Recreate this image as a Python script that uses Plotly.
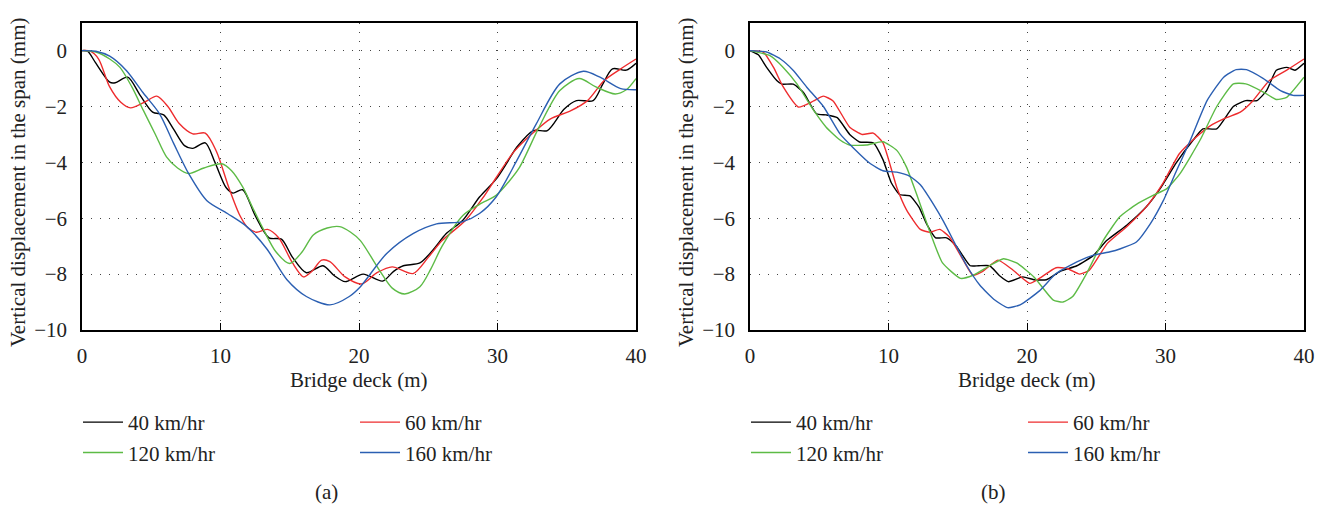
import plotly.graph_objects as go

# ---------------- data: panel (a) ----------------
a40_x = [0, 0.4, 1.0, 2.0, 2.4, 3.3, 4.2, 5.1, 5.9, 6.6, 7.4, 8.0, 8.9, 9.6, 10.4, 10.9, 11.6, 12.5, 13.5, 14.4, 15.2, 16.2, 17.4, 18.2, 19.0, 20.3, 21.7, 22.5, 23.2, 24.4, 25.4, 26.3, 27.5, 28.7, 29.9, 30.7, 31.4, 32.6, 33.6, 34.8, 35.7, 36.9, 37.6, 38.3, 39.3, 40]
a40_y = [0, -0.02, -0.45, -1.13, -1.15, -0.95, -1.6, -2.2, -2.3, -2.8, -3.4, -3.5, -3.3, -4.0, -4.9, -5.1, -4.98, -5.9, -6.7, -6.75, -7.4, -7.95, -7.7, -8.05, -8.27, -8.0, -8.25, -7.9, -7.7, -7.6, -7.1, -6.55, -6.07, -5.24, -4.6, -4.0, -3.45, -2.86, -2.86, -2.1, -1.79, -1.79, -1.2, -0.65, -0.7, -0.45]

a60_x = [0, 0.6, 1.2, 2.0, 2.8, 3.5, 4.5, 5.4, 6.2, 7.0, 8.0, 8.9, 9.7, 10.6, 11.4, 12.0, 12.6, 13.4, 14.2, 15.2, 16.0, 16.6, 17.3, 17.9, 19.0, 20.2, 21.3, 22.4, 23.9, 25.0, 26.0, 27.7, 28.9, 29.9, 31.1, 32.0, 32.6, 33.8, 35.3, 36.5, 37.7, 38.9, 40]
a60_y = [0, -0.02, -0.3, -1.3, -1.85, -2.05, -1.85, -1.63, -2.0, -2.6, -2.98, -2.95, -3.6, -4.9, -5.9, -6.35, -6.5, -6.4, -6.7, -7.6, -8.1, -7.9, -7.5, -7.55, -8.1, -8.35, -7.95, -7.74, -7.98, -7.4, -6.8, -6.07, -5.3, -4.55, -3.67, -3.2, -2.93, -2.45, -2.15, -1.79, -1.07, -0.65, -0.3]

a120_x = [0, 1.0, 2.0, 2.74, 3.6, 4.43, 5.3, 6.1, 6.9, 7.7, 8.8, 10.1, 10.8, 11.6, 12.3, 13.1, 14.0, 15.0, 15.9, 16.7, 17.7, 18.6, 19.4, 20.1, 21.5, 22.4, 23.3, 24.4, 25.2, 26.0, 27.5, 28.7, 29.9, 30.8, 31.6, 33.0, 34.5, 35.9, 37.1, 38.5, 39.3, 40]
a120_y = [0, -0.05, -0.3, -0.6, -1.3, -2.14, -3.0, -3.8, -4.2, -4.4, -4.2, -4.05, -4.3, -4.88, -5.6, -6.4, -7.2, -7.62, -7.2, -6.6, -6.35, -6.3, -6.5, -6.8, -7.88, -8.5, -8.71, -8.45, -7.8, -7.0, -5.9, -5.5, -5.18, -4.7, -4.17, -2.74, -1.43, -1.0, -1.3, -1.55, -1.4, -1.0]

a160_x = [0, 1.0, 2.0, 3.2, 4.4, 5.6, 6.6, 7.7, 9.0, 10.5, 11.9, 13.35, 14.8, 16.2, 17.9, 19.3, 20.1, 22.0, 23.9, 25.6, 27.5, 28.7, 29.9, 31.4, 32.8, 34.5, 36.2, 37.4, 38.9, 40]
a160_y = [0, -0.02, -0.2, -0.71, -1.5, -2.26, -3.3, -4.4, -5.36, -5.83, -6.3, -7.1, -8.2, -8.8, -9.1, -8.8, -8.45, -7.26, -6.55, -6.2, -6.12, -5.83, -5.24, -3.93, -2.62, -1.19, -0.74, -0.95, -1.36, -1.4]

# ---------------- data: panel (b) ----------------
b40_x = [0, 0.6, 1.2, 1.93, 2.3, 3.13, 3.86, 4.8, 5.5, 6.3, 7.2, 7.9, 8.9, 9.6, 10.2, 10.8, 11.55, 12.2, 12.75, 13.4, 14.2, 14.9, 15.9, 16.5, 17.3, 18.0, 18.65, 19.7, 20.5, 21.4, 22.4, 23.6, 24.8, 25.75, 27.2, 28.6, 29.6, 30.8, 32.0, 32.7, 33.7, 34.9, 35.8, 36.6, 37.3, 38.0, 38.75, 39.35, 40]
b40_y = [0, -0.15, -0.6, -1.07, -1.2, -1.2, -1.5, -2.26, -2.3, -2.4, -3.0, -3.27, -3.3, -3.9, -4.73, -5.15, -5.2, -5.6, -6.2, -6.7, -6.7, -7.0, -7.7, -7.7, -7.7, -8.05, -8.27, -8.1, -8.2, -8.2, -7.9, -7.7, -7.33, -6.8, -6.25, -5.6, -4.95, -4.0, -3.2, -2.8, -2.8, -2.0, -1.79, -1.79, -1.43, -0.7, -0.6, -0.7, -0.45]

b60_x = [0, 0.96, 1.7, 2.4, 3.5, 4.6, 5.3, 6.0, 7.2, 8.1, 8.9, 9.6, 10.6, 11.3, 12.3, 13.0, 13.7, 14.4, 15.4, 16.1, 16.8, 17.9, 19.0, 20.2, 20.9, 22.1, 22.9, 23.8, 24.5, 25.8, 27.2, 28.6, 29.8, 31.0, 32.2, 33.2, 34.4, 35.4, 36.3, 37.5, 38.75, 40]
b60_y = [0, -0.05, -0.6, -1.3, -2.02, -1.8, -1.63, -1.8, -2.74, -3.0, -2.95, -3.3, -4.9, -5.7, -6.4, -6.5, -6.4, -6.67, -7.5, -8.04, -7.9, -7.5, -7.86, -8.33, -8.15, -7.77, -7.8, -8.0, -7.86, -6.9, -6.3, -5.6, -4.76, -3.69, -3.1, -2.7, -2.4, -2.2, -1.8, -1.07, -0.7, -0.3]

b120_x = [0, 1.44, 2.4, 3.4, 4.6, 5.5, 6.5, 7.2, 8.4, 9.6, 10.6, 11.3, 12.0, 13.0, 13.9, 15.2, 16.1, 17.3, 18.3, 19.25, 20.5, 21.9, 22.6, 23.3, 24.3, 25.5, 26.7, 27.9, 29.1, 30.1, 31.05, 32.5, 33.7, 34.9, 35.8, 37.1, 38.0, 38.75, 40]
b120_y = [0, -0.18, -0.6, -1.2, -2.14, -2.74, -3.2, -3.38, -3.38, -3.26, -3.57, -4.17, -5.1, -6.5, -7.6, -8.15, -8.04, -7.7, -7.45, -7.6, -8.1, -8.93, -9.0, -8.8, -7.98, -6.8, -5.95, -5.5, -5.18, -4.94, -4.4, -3.2, -2.0, -1.19, -1.19, -1.49, -1.75, -1.67, -0.95]

b160_x = [0, 1.2, 2.2, 3.13, 4.1, 5.3, 6.5, 7.5, 8.7, 9.6, 10.6, 11.55, 12.3, 13.25, 13.96, 14.9, 15.65, 16.6, 17.6, 18.6, 19.5, 20.9, 22.1, 23.6, 24.8, 26.0, 26.7, 27.9, 28.9, 29.85, 30.8, 31.8, 33.0, 34.2, 35.1, 35.85, 37.07, 38.3, 39.2, 40]
b160_y = [0, -0.05, -0.3, -0.71, -1.31, -2.0, -2.98, -3.5, -4.05, -4.3, -4.35, -4.5, -4.8, -5.5, -6.1, -7.0, -7.7, -8.4, -8.9, -9.2, -9.1, -8.6, -7.98, -7.56, -7.32, -7.2, -7.1, -6.85, -6.2, -5.36, -4.29, -3.2, -1.79, -0.95, -0.68, -0.68, -1.0, -1.43, -1.6, -1.6]

series_names = ["40 km/hr", "60 km/hr", "120 km/hr", "160 km/hr"]
colors = ["#000000", "#ee2c2e", "#5dbb46", "#2b5fb2"]
x_ticks = [0, 10, 20, 30, 40]
y_ticks = [0, -2, -4, -6, -8, -10]

W, H = 1325, 507
def px(xp):
    return xp / W
def py(yp):
    return 1 - yp / H

FONT = "Liberation Serif, DejaVu Serif, serif"

fig = go.Figure()
panel_a = [(a40_x, a40_y), (a60_x, a60_y), (a120_x, a120_y), (a160_x, a160_y)]
panel_b = [(b40_x, b40_y), (b60_x, b60_y), (b120_x, b120_y), (b160_x, b160_y)]
# column legends: 40 & 120 in first column, 60 & 160 in second column
col_of = [0, 1, 0, 1]
for i, (xs, ys) in enumerate(panel_a):
    lg = ["legend", "legend2"][col_of[i]]
    fig.add_trace(go.Scatter(x=xs, y=ys, mode="lines", name=series_names[i],
                             line=dict(color=colors[i], width=1.4, shape="spline", smoothing=0.8),
                             xaxis="x", yaxis="y", legend=lg))
for i, (xs, ys) in enumerate(panel_b):
    lg = ["legend3", "legend4"][col_of[i]]
    fig.add_trace(go.Scatter(x=xs, y=ys, mode="lines", name=series_names[i],
                             line=dict(color=colors[i], width=1.4, shape="spline", smoothing=0.5),
                             xaxis="x2", yaxis="y2", legend=lg))

def xax(domain, anchor):
    return dict(domain=domain, anchor=anchor, range=[0, 40], tickvals=x_ticks,
                ticks="inside", ticklen=7, tickcolor="#000", showline=True, linecolor="#000",
                linewidth=1.5, mirror=True, showgrid=True, gridcolor="#444", gridwidth=1,
                griddash="1px,8px", zeroline=False, ticklabelstandoff=6, automargin=False,
                tickfont=dict(family=FONT, size=21, color="#222"), fixedrange=True)

def yax(domain, anchor):
    return dict(domain=domain, anchor=anchor, range=[-10, 1], tickvals=y_ticks,
                ticktext=["0", "\u22122", "\u22124", "\u22126", "\u22128", "\u221210"],
                ticks="outside", ticklen=9, tickcolor="rgba(0,0,0,0)", showline=True,
                linecolor="#000", linewidth=1.5, mirror=True, showgrid=True, gridcolor="#444",
                gridwidth=1, griddash="1px,8px", zeroline=False, automargin=False,
                tickfont=dict(family=FONT, size=21, color="#222"), fixedrange=True)

ydom = [py(330), py(22.7)]
leg_common = dict(orientation="v", xanchor="left", yanchor="top",
                  font=dict(family=FONT, size=21, color="#222"),
                  bgcolor="rgba(0,0,0,0)", itemclick=False, itemdoubleclick=False,
                  tracegroupgap=0, itemwidth=40, borderwidth=0)

LEG_TOP = 402
fig.update_layout(
    width=W, height=H, margin=dict(l=0, r=0, t=0, b=0, autoexpand=False),
    paper_bgcolor="white", plot_bgcolor="white",
    xaxis=xax([px(82), px(636)], "y"),
    yaxis=yax(ydom, "x"),
    xaxis2=xax([px(750), px(1304)], "y2"),
    yaxis2=yax(ydom, "x2"),
    legend=dict(x=px(78), y=py(LEG_TOP), **leg_common),
    legend2=dict(x=px(355), y=py(LEG_TOP), **leg_common),
    legend3=dict(x=px(746), y=py(LEG_TOP), **leg_common),
    legend4=dict(x=px(1023), y=py(LEG_TOP), **leg_common),
    showlegend=True,
)

ann_font = dict(family=FONT, size=21, color="#222")
annotations = [
    dict(text="Vertical displacement in the span (mm)", x=px(18), y=py(183), textangle=-90),
    dict(text="Vertical displacement in the span (mm)", x=px(686), y=py(183), textangle=-90),
    dict(text="Bridge deck (m)", x=px(359), y=py(380)),
    dict(text="Bridge deck (m)", x=px(1027), y=py(380)),
    dict(text="(a)", x=px(326), y=py(492)),
    dict(text="(b)", x=px(993), y=py(492)),
]
for a in annotations:
    fig.add_annotation(xref="paper", yref="paper", showarrow=False, font=ann_font,
                       xanchor="center", yanchor="middle", **a)

fig.write_html("out.html")
